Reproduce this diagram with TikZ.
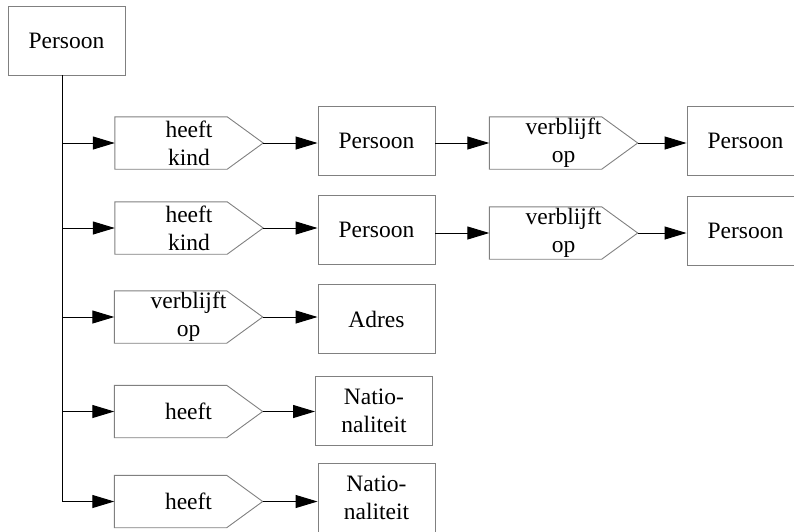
\documentclass[tikz,border=0pt]{standalone}
\usepackage{fontspec}
\setmainfont{Liberation Serif}
\usetikzlibrary{arrows.meta}
\begin{document}
\begin{tikzpicture}[x=1pt,y=-1pt,
  lbl/.style={font=\fontsize{23.5}{28}\selectfont, align=center, inner sep=0pt},
  box/.style={lbl, draw=black!50, line width=0.9pt, minimum width=117pt, minimum height=69pt},
  rel/.style={lbl, minimum width=148pt, minimum height=52pt},
  pent/.style={draw=black!50, line width=0.9pt},
  conn/.style={line width=1pt, -{Triangle[length=22pt,width=13pt]}},
  trunk/.style={line width=1pt}
]
\useasboundingbox (0,0) rectangle (794,531);
% nodes
\node[box] (top) at (66.5,40.5) {Persoon};
\node[rel] (p1) at (189,143) {heeft\\kind};
\node[box] (b1) at (376.5,140.5) {Persoon};
\node[rel] (q1) at (563.5,143) {verblijft\\op};
\node[box] (c1) at (745.5,140.5) {Persoon};
\node[rel] (p2) at (189,228) {heeft\\kind};
\node[box] (b2) at (376.5,230) {Persoon};
\node[rel] (q2) at (563.5,233) {verblijft\\op};
\node[box] (c2) at (745.5,230.5) {Persoon};
\node[rel] (p3) at (188.5,317) {verblijft\\op};
\node[box] (a3) at (376.5,319) {Adres};
\node[rel] (p4) at (188.5,411.5) {heeft};
\node[box] (n4) at (374,411) {Natio-\\naliteit};
\node[rel] (p5) at (188.5,501.5) {heeft};
\node[box] (n5) at (376.5,497.5) {Natio-\\naliteit};
% pentagon outlines
\foreach \n in {p1,p2,p3,p4,p5,q1,q2}
  \draw[pent] (\n.north west) -- ([xshift=-36pt]\n.north east) -- (\n.east)
    -- ([xshift=-36pt]\n.south east) -- (\n.south west) -- cycle;
% trunk
\coordinate (t) at ([xshift=-4.5pt]top.south);
\draw[trunk] (t) -- (t |- p5.west);
\foreach \n in {p1,p2,p3,p4,p5}
  \draw[conn] (t |- \n.west) -- (\n.west);
% relation to target
\draw[conn] (p1.east) -- (p1.east -| b1.west);
\draw[conn] (b1.east |- q1.west) -- (q1.west);
\draw[conn] (q1.east) -- (q1.east -| c1.west);
\draw[conn] (p2.east) -- (p2.east -| b2.west);
\draw[conn] (b2.east |- q2.west) -- (q2.west);
\draw[conn] (q2.east) -- (q2.east -| c2.west);
\draw[conn] (p3.east) -- (p3.east -| a3.west);
\draw[conn] (p4.east) -- (p4.east -| n4.west);
\draw[conn] (p5.east) -- (p5.east -| n5.west);
\end{tikzpicture}
\end{document}
